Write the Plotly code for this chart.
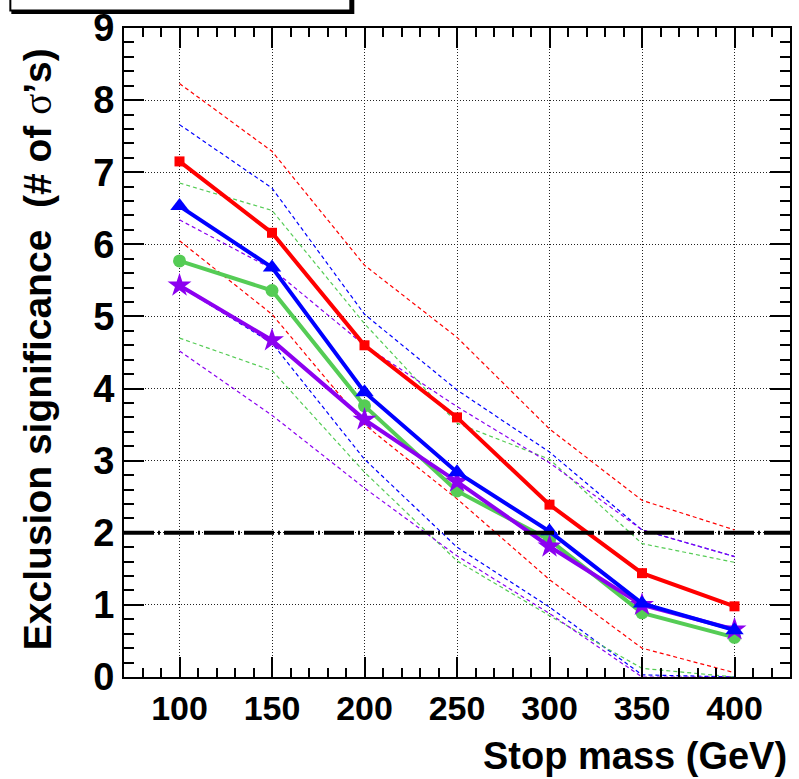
import plotly.graph_objects as go

# ---------------- data ----------------
mass = [100, 150, 200, 250, 300, 350, 400]

red = [7.15, 6.16, 4.60, 3.60, 2.39, 1.44, 0.98]
red_up = [8.23, 7.29, 5.71, 4.71, 3.44, 2.45, 2.04]
red_dn = [6.05, 5.03, 3.50, 2.47, 1.35, 0.40, 0.06]

blue = [6.53, 5.68, 3.95, 2.84, 2.02, 1.02, 0.65]
blue_up = [7.66, 6.78, 5.03, 3.98, 3.12, 2.04, 1.67]
blue_dn = [5.42, 4.63, 3.02, 1.80, 0.97, 0.03, 0.00]

green = [5.77, 5.36, 3.76, 2.58, 1.90, 0.89, 0.55]
green_up = [6.85, 6.47, 4.90, 3.52, 3.02, 1.85, 1.59]
green_dn = [4.70, 4.25, 2.84, 1.61, 0.85, 0.12, 0.00]

purple = [5.43, 4.67, 3.57, 2.71, 1.81, 1.00, 0.66]
purple_up = [6.34, 5.66, 4.60, 3.75, 2.97, 2.04, 1.67]
purple_dn = [4.52, 3.63, 2.62, 1.68, 0.88, 0.00, 0.00]

exclusion_level = 2

x_range = [70, 430]
y_range = [0, 9]

# ---------------- styles ----------------
RED = "#ff0000"
BLUE = "#0000ff"
GREEN = "#55cc55"
PURPLE = "#8c00f0"

fig = go.Figure()

bands = [
    (red_up, red_dn, RED),
    (blue_up, blue_dn, BLUE),
    (green_up, green_dn, GREEN),
    (purple_up, purple_dn, PURPLE),
]
for up, dn, col in bands:
    for arr in (up, dn):
        fig.add_trace(go.Scatter(
            x=mass, y=arr, mode="lines",
            line=dict(color=col, width=1.2, dash="4px,3px"),
            showlegend=False, hoverinfo="skip", cliponaxis=True))

series = [
    (green, GREEN, "circle", 13),
    (purple, PURPLE, "star", 18),
    (blue, BLUE, "triangle-up", 16),
    (red, RED, "square", 10),
]
for vals, col, sym, sz in series:
    fig.add_trace(go.Scatter(
        x=mass, y=vals, mode="lines+markers",
        line=dict(color=col, width=4),
        marker=dict(symbol=sym, size=sz, color=col, line=dict(width=0)),
        showlegend=False, cliponaxis=False))

fig.add_hline(y=exclusion_level, line=dict(color="black", width=4, dash="30px,4px,2px,4px"))

# legend box remnant at top-left (cut off by the canvas)
W, H = 799, 779
L, R, T, B = 124, 7, 24, 102
pw, ph = W - L - R, H - T - B


def px_x(p):
    return (p - L) / pw


def px_y(p):
    return (H - B - p) / ph


fig.add_shape(type="rect", xref="paper", yref="paper",
              x0=px_x(12), x1=px_x(354), y0=px_y(9), y1=px_y(-30),
              line=dict(color="black", width=2), fillcolor="black", layer="above")
fig.add_shape(type="rect", xref="paper", yref="paper",
              x0=px_x(10), x1=px_x(351), y0=px_y(6.5), y1=px_y(-30),
              line=dict(color="black", width=2), fillcolor="white", layer="above")

axis_common = dict(
    showline=True, linecolor="black", linewidth=2, mirror="ticks",
    ticks="inside", ticklen=20, tickwidth=1.5, tickcolor="black",
    showgrid=True, gridcolor="#222222", gridwidth=1, griddash="1px,2px",
    zeroline=False,
)

fig.update_xaxes(
    range=x_range, tick0=0, dtick=50,
    tickfont=dict(family="Liberation Sans", size=34, color="black", weight="bold"),
    minor=dict(ticks="inside", ticklen=9, tickwidth=1.5, tickcolor="black", dtick=10, showgrid=False),
    **axis_common)
fig.update_yaxes(
    range=y_range, tick0=0, dtick=1,
    tickfont=dict(family="Liberation Sans", size=38, color="black", weight="bold"),
    minor=dict(ticks="inside", ticklen=10, tickwidth=1.5, tickcolor="black", dtick=0.2, showgrid=False),
    **axis_common)

fig.add_annotation(
    text="<b>Stop mass (GeV)</b>", xref="paper", yref="paper",
    x=px_x(791), y=px_y(756), xanchor="right", yanchor="middle",
    showarrow=False, font=dict(family="Liberation Sans", size=38, color="black"))

fig.add_annotation(
    text="<b>Exclusion significance  (# of </b>"
         "<span style='font-family:Liberation Serif;font-weight:normal'>σ</span>"
         "<b>’s)</b>",
    xref="paper", yref="paper", x=px_x(38), y=px_y(42),
    xanchor="center", yanchor="top", textangle=-90,
    showarrow=False, font=dict(family="Liberation Sans", size=39, color="black"))

fig.update_layout(
    width=W, height=H,
    margin=dict(l=L, r=R, t=T, b=B),
    plot_bgcolor="white", paper_bgcolor="white",
    showlegend=False,
)

fig.write_html("out.html")
